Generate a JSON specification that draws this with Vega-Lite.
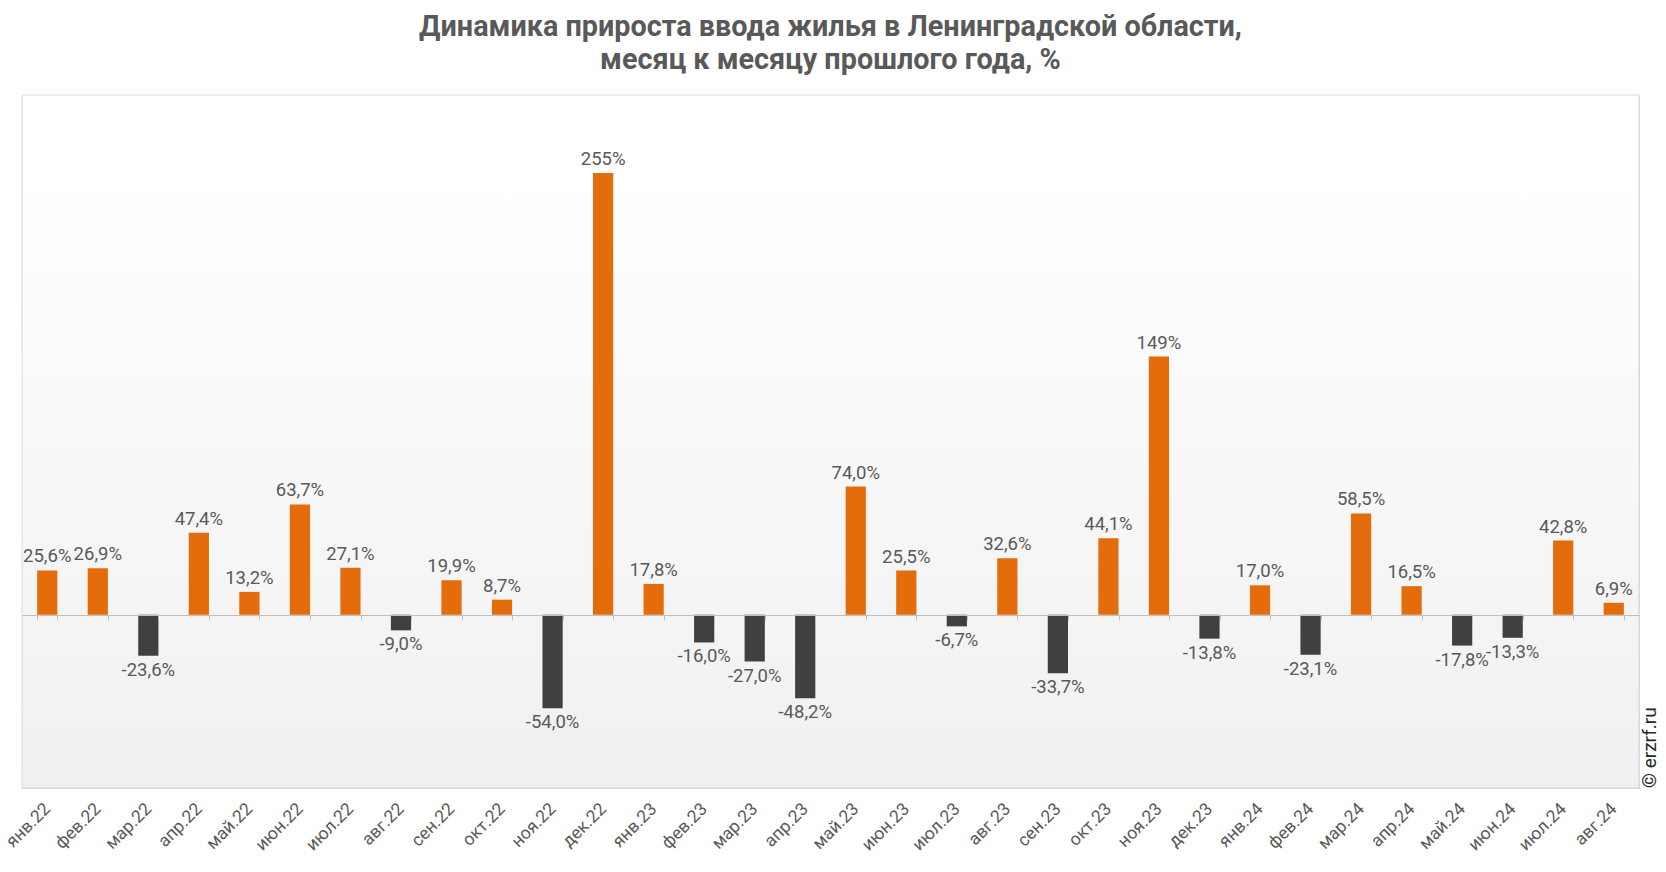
{
  "$schema": "https://vega.github.io/schema/vega-lite/v6.json",
  "autosize": {"type": "none"},
  "width": 1617,
  "height": 693,
  "padding": {"left": 22, "top": 95, "right": 27, "bottom": 84},
  "background": "#ffffff",
  "config": {
    "font": "Roboto",
    "view": {"stroke": "#d9d9d9", "strokeWidth": 1},
    "axisY": {
      "title": null,
      "labels": false,
      "ticks": false,
      "domain": false,
      "grid": false
    }
  },
  "title": {
    "text": ["Динамика прироста ввода жилья в Ленинградской области,", "месяц к месяцу прошлого года, %"],
    "font": "Roboto",
    "fontSize": 28.8,
    "fontWeight": "bold",
    "color": "#595959",
    "lineHeight": 33,
    "anchor": "middle",
    "offset": 20
  },
  "datasets": {
    "main": [
      {"m": "янв.22", "v": 25.6, "t": "25,6%"},
      {"m": "фев.22", "v": 26.9, "t": "26,9%"},
      {"m": "мар.22", "v": -23.6, "t": "-23,6%"},
      {"m": "апр.22", "v": 47.4, "t": "47,4%"},
      {"m": "май.22", "v": 13.2, "t": "13,2%"},
      {"m": "июн.22", "v": 63.7, "t": "63,7%"},
      {"m": "июл.22", "v": 27.1, "t": "27,1%"},
      {"m": "авг.22", "v": -9.0, "t": "-9,0%"},
      {"m": "сен.22", "v": 19.9, "t": "19,9%"},
      {"m": "окт.22", "v": 8.7, "t": "8,7%"},
      {"m": "ноя.22", "v": -54.0, "t": "-54,0%"},
      {"m": "дек.22", "v": 255, "t": "255%"},
      {"m": "янв.23", "v": 17.8, "t": "17,8%"},
      {"m": "фев.23", "v": -16.0, "t": "-16,0%"},
      {"m": "мар.23", "v": -27.0, "t": "-27,0%"},
      {"m": "апр.23", "v": -48.2, "t": "-48,2%"},
      {"m": "май.23", "v": 74.0, "t": "74,0%"},
      {"m": "июн.23", "v": 25.5, "t": "25,5%"},
      {"m": "июл.23", "v": -6.7, "t": "-6,7%"},
      {"m": "авг.23", "v": 32.6, "t": "32,6%"},
      {"m": "сен.23", "v": -33.7, "t": "-33,7%"},
      {"m": "окт.23", "v": 44.1, "t": "44,1%"},
      {"m": "ноя.23", "v": 149, "t": "149%"},
      {"m": "дек.23", "v": -13.8, "t": "-13,8%"},
      {"m": "янв.24", "v": 17.0, "t": "17,0%"},
      {"m": "фев.24", "v": -23.1, "t": "-23,1%"},
      {"m": "мар.24", "v": 58.5, "t": "58,5%"},
      {"m": "апр.24", "v": 16.5, "t": "16,5%"},
      {"m": "май.24", "v": -17.8, "t": "-17,8%"},
      {"m": "июн.24", "v": -13.3, "t": "-13,3%"},
      {"m": "июл.24", "v": 42.8, "t": "42,8%"},
      {"m": "авг.24", "v": 6.9, "t": "6,9%"}
    ]
  },
  "layer": [
    {
      "data": {"values": [{"k": 1}]},
      "mark": {
        "type": "rect",
        "stroke": "#d9d9d9",
        "strokeWidth": 1,
        "color": {
          "gradient": "linear",
          "x1": 0, "y1": 0, "x2": 0, "y2": 1,
          "stops": [
            {"offset": 0, "color": "#ffffff"},
            {"offset": 0.12, "color": "#ffffff"},
            {"offset": 1, "color": "#f0f0f0"}
          ]
        }
      },
      "encoding": {
        "y": {
          "datum": 300,
          "type": "quantitative",
          "scale": {"domain": [-100, 300], "nice": false}
        },
        "y2": {"datum": -100}
      }
    },
    {
      "data": {"name": "main"},
      "encoding": {
        "x": {
          "field": "m",
          "type": "nominal",
          "sort": null,
          "scale": {"paddingInner": 0.6, "paddingOuter": 0.3},
          "axis": {
            "title": null,
            "orient": "bottom",
            "offset": -173,
            "zindex": 1,
            "domain": true,
            "domainColor": "#bfbfbf",
            "domainWidth": 1,
            "ticks": true,
            "tickBand": "extent",
            "tickColor": "#bfbfbf",
            "tickSize": 5,
            "labelAngle": -45,
            "labelAlign": "right",
            "labelBaseline": "middle",
            "labelPadding": 186,
            "labelFont": "Roboto",
            "labelFontSize": 17.5,
            "labelColor": "#595959",
            "grid": false
          }
        },
        "y": {
          "field": "v",
          "type": "quantitative"
        }
      },
      "layer": [
        {
          "mark": {"type": "bar"},
          "encoding": {
            "color": {"condition": {"test": "datum.v < 0", "value": "#404040"}, "value": "#e46c0a"}
          }
        },
        {
          "transform": [{"filter": "datum.v >= 0"}],
          "mark": {"type": "text", "baseline": "alphabetic", "dy": -8, "font": "Roboto", "fontSize": 18.5, "color": "#595959"},
          "encoding": {"text": {"field": "t"}}
        },
        {
          "transform": [{"filter": "datum.v < 0"}],
          "mark": {"type": "text", "baseline": "top", "dy": 5, "font": "Roboto", "fontSize": 18.5, "color": "#595959"},
          "encoding": {"text": {"field": "t"}}
        },
        {
          "transform": [{"filter": "datum.m === 'авг.24'"}],
          "mark": {"type": "text", "angle": 270, "align": "left", "baseline": "top", "dx": 0, "dy": 27, "font": "Roboto", "fontSize": 19, "color": "#262626"},
          "encoding": {
            "y": {"datum": -100, "type": "quantitative"},
            "text": {"value": "© erzrf.ru"}
          }
        }
      ]
    }
  ]
}
